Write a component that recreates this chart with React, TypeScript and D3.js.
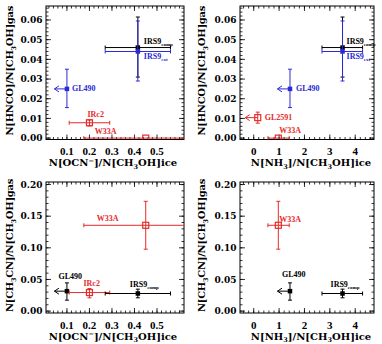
import React from "react";
import * as d3 from "d3";

// ---------- data ----------
type Pt = { src: string; x: number; xlo?: number; xhi?: number; y: number; ylo?: number; yhi?: number; upper?: boolean };

const hncoVsOcn: Pt[] = [
  { src: "IRS9comp", x: 0.415, xlo: 0.27, xhi: 0.56, y: 0.046, ylo: 0.031, yhi: 0.0615 },
  { src: "IRS9ext", x: 0.415, xlo: 0.27, xhi: 0.56, y: 0.044, ylo: 0.029, yhi: 0.0595 },
  { src: "GL490", x: 0.1, upper: true, y: 0.025, ylo: 0.0155, yhi: 0.035 },
  { src: "IRc2", x: 0.2, xlo: 0.11, xhi: 0.29, y: 0.0078, ylo: 0.0062, yhi: 0.0092 },
  { src: "W33A", x: 0.45, xlo: 0.175, xhi: 0.725, y: 0.0 },
];
const hncoVsNh3: Pt[] = [
  { src: "IRS9comp", x: 3.5, xlo: 2.69, xhi: 4.29, y: 0.046, ylo: 0.031, yhi: 0.0615 },
  { src: "IRS9ext", x: 3.5, xlo: 2.69, xhi: 4.29, y: 0.044, ylo: 0.029, yhi: 0.0595 },
  { src: "GL490", x: 1.43, upper: true, y: 0.025, ylo: 0.0155, yhi: 0.035 },
  { src: "GL2591", x: 0.16, upper: true, y: 0.0104, ylo: 0.0076, yhi: 0.0132 },
  { src: "W33A", x: 0.97, xlo: 0.56, xhi: 1.4, y: 0.0 },
];
const ch3cnVsOcn: Pt[] = [
  { src: "W33A", x: 0.45, xlo: 0.175, xhi: 0.725, y: 0.1356, ylo: 0.0978, yhi: 0.1735 },
  { src: "GL490", x: 0.1, upper: true, y: 0.0315, ylo: 0.0173, yhi: 0.0446 },
  { src: "IRc2", x: 0.2, xlo: 0.11, xhi: 0.29, y: 0.0293, ylo: 0.021, yhi: 0.0356 },
  { src: "IRS9comp", x: 0.415, xlo: 0.27, xhi: 0.56, y: 0.0278, ylo: 0.021, yhi: 0.0347 },
];
const ch3cnVsNh3: Pt[] = [
  { src: "W33A", x: 0.97, xlo: 0.56, xhi: 1.4, y: 0.1356, ylo: 0.0978, yhi: 0.1735 },
  { src: "GL490", x: 1.43, upper: true, y: 0.0315, ylo: 0.0173, yhi: 0.0446 },
  { src: "IRS9comp", x: 3.5, xlo: 2.69, xhi: 4.29, y: 0.0278, ylo: 0.021, yhi: 0.0347 },
];

const ocnTicks = [0.1, 0.2, 0.3, 0.4, 0.5];
const nh3Ticks = [0, 1, 2, 3, 4];
const hncoTicks = [0, 0.01, 0.02, 0.03, 0.04, 0.05, 0.06];
const ch3cnTicks = [0, 0.05, 0.1, 0.15, 0.2];

const sourceLabels: Record<string, [string, string]> = {
  IRS9comp: ["IRS9", "comp"],
  IRS9ext: ["IRS9", "ext"],
  GL490: ["GL490", ""],
  GL2591: ["GL2591", ""],
  IRc2: ["IRc2", ""],
  W33A: ["W33A", ""],
};

// ---------- styles ----------
const BLACK = "#000";
const BLUE = "#2b2bd6";
const RED = "#e62a2a";
const colorsTop: Record<string, string> = { IRS9comp: BLACK, IRS9ext: BLUE, GL490: BLUE, GL2591: RED, IRc2: RED, W33A: RED };
const colorsBottom: Record<string, string> = { IRS9comp: BLACK, GL490: BLACK, IRc2: RED, W33A: RED };

type Part = [string, number];
const titleOcn: Part[] = [["N[OCN", 0], ["−", -3.5], ["]/N[CH", 0], ["3", 2.5], ["OH]ice", 0]];
const titleNh3: Part[] = [["N[NH", 0], ["3", 2.5], ["]/N[CH", 0], ["3", 2.5], ["OH]ice", 0]];
const titleHnco: Part[] = [["N[HNCO]/N[CH", 0], ["3", 2.5], ["OH]gas", 0]];
const titleCh3cn: Part[] = [["N[CH", 0], ["3", 2.5], ["CN]/N[CH", 0], ["3", 2.5], ["OH]gas", 0]];

function rich(parts: Part[], base: number) {
  let prev = 0;
  return parts.map(([t, s], i) => {
    const dy = s - prev;
    prev = s;
    return (
      <tspan key={i} dy={dy} fontSize={s === 0 ? base : base * 0.65}>
        {t}
      </tspan>
    );
  });
}

type PanelCfg = {
  id: string;
  left: number; right: number; top: number; bottom: number;
  xDomain: [number, number]; yDomain: [number, number];
  xTicks: number[]; yTicks: number[]; xMinor: number; yMinor: number;
  xFmt: (d: number) => string; yFmt: (d: number) => string;
  data: Pt[]; colors: Record<string, string>;
  xTitle: Part[]; yTitle: Part[]; yTitleX: number; xTitleX: number;
  offsets: Record<string, [number, number]>;
};

const panels: PanelCfg[] = [
  {
    id: "tl", left: 46, right: 184, top: 6, bottom: 139.5,
    xDomain: [0.007, 0.62], yDomain: [-0.0007, 0.0671],
    xTicks: ocnTicks, yTicks: hncoTicks, xMinor: 0.02, yMinor: 0.002,
    xFmt: (d) => d.toFixed(1), yFmt: (d) => d.toFixed(2),
    data: hncoVsOcn, colors: colorsTop, xTitle: titleOcn, yTitle: titleHnco, yTitleX: 13, xTitleX: 113,
    offsets: { IRS9comp: [6, -3.5], IRS9ext: [6, 7.5], GL490: [5, 2.5], IRc2: [-2, -6], W33A: [-51, -4] },
  },
  {
    id: "tr", left: 240, right: 374, top: 6, bottom: 139.5,
    xDomain: [-0.54, 4.74], yDomain: [-0.0007, 0.0671],
    xTicks: nh3Ticks, yTicks: hncoTicks, xMinor: 0.2, yMinor: 0.002,
    xFmt: (d) => d.toFixed(0), yFmt: (d) => d.toFixed(2),
    data: hncoVsNh3, colors: colorsTop, xTitle: titleNh3, yTitle: titleHnco, yTitleX: 205, xTitleX: 311,
    offsets: { IRS9comp: [4, -3.5], IRS9ext: [4, 7.5], GL490: [6, 2.5], GL2591: [7, 2.5], W33A: [1, -5] },
  },
  {
    id: "bl", left: 46, right: 184, top: 182, bottom: 313,
    xDomain: [0.007, 0.62], yDomain: [-0.003, 0.204],
    xTicks: ocnTicks, yTicks: ch3cnTicks, xMinor: 0.02, yMinor: 0.01,
    xFmt: (d) => d.toFixed(1), yFmt: (d) => d.toFixed(2),
    data: ch3cnVsOcn, colors: colorsBottom, xTitle: titleOcn, yTitle: titleCh3cn, yTitleX: 13, xTitleX: 113,
    offsets: { W33A: [-49, -4], GL490: [-8.5, -12], IRc2: [-6, -7], IRS9comp: [-8, -7] },
  },
  {
    id: "br", left: 240, right: 374, top: 182, bottom: 313,
    xDomain: [-0.54, 4.74], yDomain: [-0.003, 0.204],
    xTicks: nh3Ticks, yTicks: ch3cnTicks, xMinor: 0.2, yMinor: 0.01,
    xFmt: (d) => d.toFixed(0), yFmt: (d) => d.toFixed(2),
    data: ch3cnVsNh3, colors: colorsBottom, xTitle: titleNh3, yTitle: titleCh3cn, yTitleX: 205, xTitleX: 311,
    offsets: { W33A: [1, -3], GL490: [-8, -14], IRS9comp: [-12, -7] },
  },
];

const TICK_FONT = "'DejaVu Serif', serif";
const XTICK_FONT = "'Liberation Serif', 'Times New Roman', serif";
const TITLE_FONT = "'DejaVu Serif', serif";
const LABEL_FONT = "'Liberation Serif', 'Times New Roman', serif";

function Panel({ p }: { p: PanelCfg }) {
  const x = d3.scaleLinear().domain(p.xDomain).range([p.left, p.right]);
  const y = d3.scaleLinear().domain(p.yDomain).range([p.bottom, p.top]);
  const xMin = d3.range(Math.ceil(p.xDomain[0] / p.xMinor - 1e-6) * p.xMinor, p.xDomain[1], p.xMinor);
  const yMin = d3.range(Math.ceil(p.yDomain[0] / p.yMinor - 1e-6) * p.yMinor, p.yDomain[1], p.yMinor);
  const MAJ = 5, MIN = 2.5;
  const cap = 2;
  const arrowLen = 12.5;
  const w = p.right - p.left, h = p.bottom - p.top;
  return (
    <g>
      <defs>
        <clipPath id={"clip-" + p.id}>
          <rect x={p.left} y={p.top - 1} width={w} height={h + 1} />
        </clipPath>
      </defs>
      <g stroke="#000" strokeWidth={0.8}>
        {xMin.map((v, i) => (
          <g key={"xm" + i}>
            <line x1={x(v)} x2={x(v)} y1={p.bottom} y2={p.bottom - MIN} />
            <line x1={x(v)} x2={x(v)} y1={p.top} y2={p.top + MIN} />
          </g>
        ))}
        {p.xTicks.map((v, i) => (
          <g key={"xM" + i}>
            <line x1={x(v)} x2={x(v)} y1={p.bottom} y2={p.bottom - MAJ} />
            <line x1={x(v)} x2={x(v)} y1={p.top} y2={p.top + MAJ} />
          </g>
        ))}
        {yMin.map((v, i) => (
          <g key={"ym" + i}>
            <line x1={p.left} x2={p.left + MIN} y1={y(v)} y2={y(v)} />
            <line x1={p.right} x2={p.right - MIN} y1={y(v)} y2={y(v)} />
          </g>
        ))}
        {p.yTicks.map((v, i) => (
          <g key={"yM" + i}>
            <line x1={p.left} x2={p.left + MAJ} y1={y(v)} y2={y(v)} />
            <line x1={p.right} x2={p.right - MAJ} y1={y(v)} y2={y(v)} />
          </g>
        ))}
      </g>
      <rect x={p.left} y={p.top} width={w} height={h} fill="none" stroke="#000" strokeWidth={1} />
      <g fontWeight="bold" fill="#000">
        {p.xTicks.map((v, i) => (
          <text key={"xl" + i} x={x(v)} y={p.bottom + 15.5} textAnchor="middle" fontFamily={XTICK_FONT} fontSize={11}>
            {p.xFmt(v)}
          </text>
        ))}
        {p.yTicks.map((v, i) => (
          <text key={"yl" + i} x={p.left - 3.5} y={y(v) + 3.3} textAnchor="end" fontFamily={TICK_FONT} fontSize={9}>
            {p.yFmt(v)}
          </text>
        ))}
      </g>
      <text x={p.xTitleX} y={p.bottom + 26.5} textAnchor="middle" fontFamily={TITLE_FONT} fontWeight="bold" fontSize={10}>
        {rich(p.xTitle, 10)}
      </text>
      <text
        transform={`translate(${p.yTitleX},${(p.top + p.bottom) / 2 - 2}) rotate(-90)`}
        textAnchor="middle" fontFamily={TITLE_FONT} fontWeight="bold" fontSize={10} letterSpacing={-0.3}
      >
        {rich(p.yTitle, 10)}
      </text>
      <g clipPath={`url(#clip-${p.id})`}>
        {p.data.map((d, i) => {
          const c = p.colors[d.src];
          const px = x(d.x), py = y(d.y);
          const open = c === RED;
          const s = open ? 6 : 4.5;
          return (
            <g key={"d" + i} stroke={c} strokeWidth={1} fill="none">
              {d.xlo !== undefined && d.xhi !== undefined && (
                <>
                  <line x1={x(d.xlo)} x2={x(d.xhi)} y1={py} y2={py} />
                  <line x1={x(d.xlo)} x2={x(d.xlo)} y1={py - cap} y2={py + cap} />
                  <line x1={x(d.xhi)} x2={x(d.xhi)} y1={py - cap} y2={py + cap} />
                </>
              )}
              {d.ylo !== undefined && d.yhi !== undefined && (
                <>
                  <line x1={px} x2={px} y1={y(d.ylo)} y2={y(d.yhi)} />
                  <line x1={px - cap} x2={px + cap} y1={y(d.ylo)} y2={y(d.ylo)} />
                  <line x1={px - cap} x2={px + cap} y1={y(d.yhi)} y2={y(d.yhi)} />
                </>
              )}
              {d.upper && (
                <>
                  <line x1={px} x2={px - arrowLen} y1={py} y2={py} />
                  <polyline points={`${px - arrowLen + 4.5},${py - 3} ${px - arrowLen},${py} ${px - arrowLen + 4.5},${py + 3}`} />
                </>
              )}
              {open ? (
                <rect x={px - s / 2} y={py - s / 2} width={s} height={s} fill="none" stroke={c} strokeWidth={1.2} />
              ) : (
                <rect x={px - s / 2} y={py - s / 2} width={s} height={s} fill={c} stroke="none" />
              )}
            </g>
          );
        })}
      </g>
      <g fontFamily={LABEL_FONT} fontWeight="bold" fontSize={8}>
        {p.data.map((d, i) => {
          const off = p.offsets[d.src];
          if (!off) return null;
          const [main, sub] = sourceLabels[d.src];
          return (
            <text key={"l" + i} x={x(d.x) + off[0]} y={y(d.y) + off[1]} fill={p.colors[d.src]}>
              {main}
              {sub && (
                <tspan dy={2} fontSize={5}>
                  {sub}
                </tspan>
              )}
            </text>
          );
        })}
      </g>
    </g>
  );
}

export default function App() {
  return (
    <svg width={382} height={344} viewBox="0 0 382 344" style={{ position: "absolute", left: 0, top: 0, background: "#fff" }}>
      <rect width={382} height={344} fill="#fff" />
      {panels.map((p) => (
        <Panel key={p.id} p={p} />
      ))}
    </svg>
  );
}
